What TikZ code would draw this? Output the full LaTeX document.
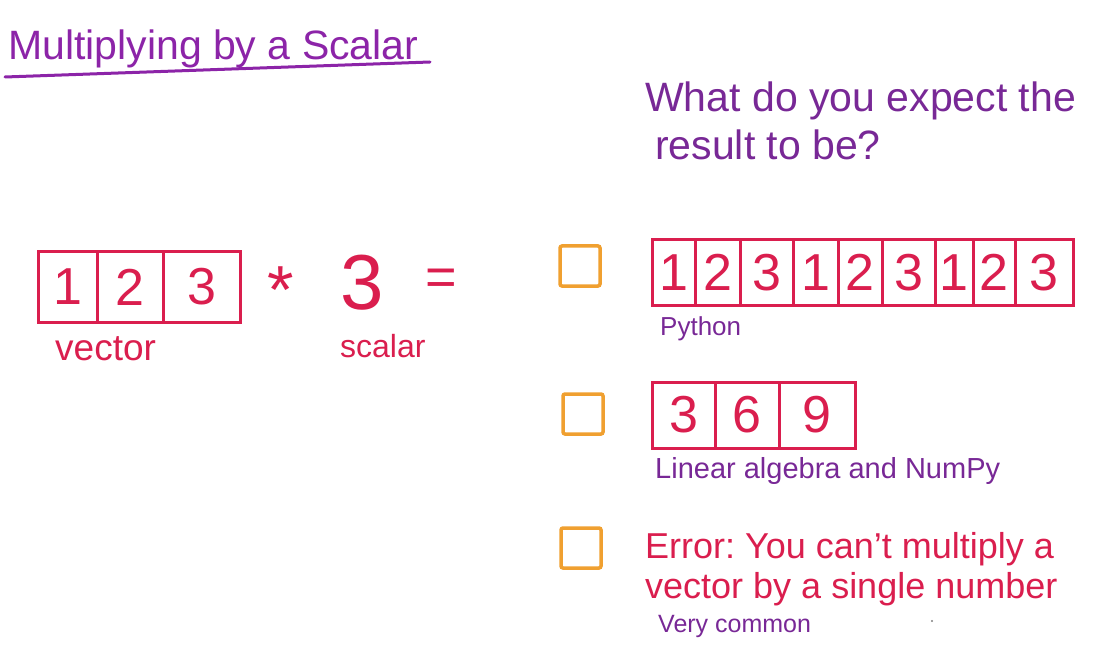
\documentclass[tikz,border=0pt]{standalone}
\usepackage{fontspec}
\setmainfont{Liberation Sans}
\usetikzlibrary{positioning}
\definecolor{vred}{RGB}{218,30,78}
\definecolor{vpurple}{RGB}{140,36,168}
\definecolor{tpurple}{RGB}{120,40,150}
\definecolor{vorange}{RGB}{240,160,48}
\newcommand{\fs}[1]{\fontsize{#1}{1.2\dimexpr#1pt\relax}\selectfont}
\frenchspacing
\tikzset{x=1pt, y=-1pt, % pixel units, y going down
      cell/.style={ % one entry of a vector
      draw=vred, line width=3pt, text=vred,
      inner sep=0pt, outer sep=0pt,
      font=\fs{52}},
      tickbox/.style={ % answer check box
      draw=vorange, line width=3.5pt, rounded corners=2pt,
      minimum size=40pt, inner sep=0pt},
      note/.style={inner sep=0pt, anchor=base west}}

\begin{document}
\begin{tikzpicture}
      \useasboundingbox (0,0) rectangle (1098,647);
      % title
      \node[note, text=vpurple, font=\fs{41}] (title) at (8,60) {Multiplying by a Scalar};
      \coordinate (ul1) at (5,77);
      \coordinate (ul2) at (430,62);
      \draw[vpurple, line width=3pt, line cap=round] (ul1) -- (ul2);
      % left: vector times scalar
      \node[cell, minimum width=59pt, minimum height=70pt, anchor=north west] (v1) at (38,252) {1};
      \node[cell, minimum width=66pt, minimum height=70pt, right=0pt of v1] (v2) {2};
      \node[cell, minimum width=77pt, minimum height=70pt, right=0pt of v2] (v3) {3};
      \node[text=vred, font=\fs{68}] (star) at (281,290) {*};
      \node[text=vred, font=\fs{78}] (sc) at (362,283) {3};
      \node[text=vred, font=\fs{54}] (eq) at (441,282) {=};
      \node[note, text=vred, font=\fs{37}] (vlab) at (55,360) {vector};
      \node[note, text=vred, font=\fs{32}] (slab) at (340,357) {scalar};
      % question
      \node[note, text=tpurple, font=\fs{41}] (q1) at (645,112) {What do you expect the};
      \node[note, text=tpurple, font=\fs{41}] (q2) at (655,160) {result to be?};
      % answer 1
      \node[tickbox] (b1) at (580,266) {};
      \node[cell, minimum width=43pt, minimum height=65pt, anchor=north west] (p1) at (652,240) {1};
      \node[cell, minimum width=45pt, minimum height=65pt, right=0pt of p1] (p2) {2};
      \node[cell, minimum width=53pt, minimum height=65pt, right=0pt of p2] (p3) {3};
      \node[cell, minimum width=45pt, minimum height=65pt, right=0pt of p3] (p4) {1};
      \node[cell, minimum width=44pt, minimum height=65pt, right=0pt of p4] (p5) {2};
      \node[cell, minimum width=53pt, minimum height=65pt, right=0pt of p5] (p6) {3};
      \node[cell, minimum width=38pt, minimum height=65pt, right=0pt of p6] (p7) {1};
      \node[cell, minimum width=42pt, minimum height=65pt, right=0pt of p7] (p8) {2};
      \node[cell, minimum width=58pt, minimum height=65pt, right=0pt of p8] (p9) {3};
      \node[note, text=tpurple, font=\fs{26}] (py) at (660,335) {Python};
      % answer 2
      \node[tickbox] (b2) at (583,414) {};
      \node[cell, minimum width=63pt, minimum height=66pt, anchor=north west] (n1) at (652,382) {3};
      \node[cell, minimum width=64pt, minimum height=66pt, right=0pt of n1] (n2) {6};
      \node[cell, minimum width=76pt, minimum height=66pt, right=0pt of n2] (n3) {9};
      \node[note, text=tpurple, font=\fs{29}] (np) at (655,478) {Linear algebra and NumPy};
      % answer 3
      \node[tickbox] (b3) at (581,548) {};
      \node[note, text=vred, font=\fs{36}] (e1) at (645,558) {Error: You can't multiply a};
      \node[note, text=vred, font=\fs{36}] (e2) at (645,598) {vector by a single number};
      \node[note, text=tpurple, font=\fs{25}] (vc) at (658,632) {Very common};
      \fill[gray] (932,621) circle (1.2);
\end{tikzpicture}
\end{document}
